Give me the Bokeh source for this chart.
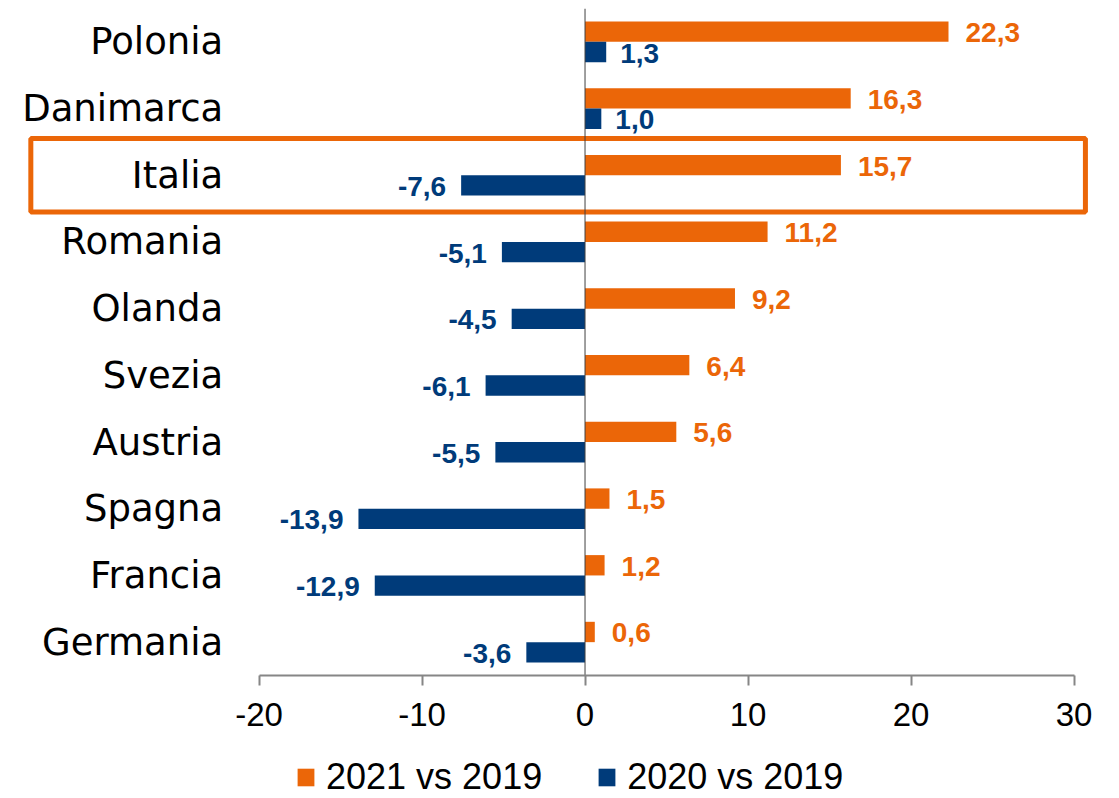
from bokeh.plotting import figure
from bokeh.models import (ColumnDataSource, Range1d, Legend, LegendItem,
                          FixedTicker, LinearAxis)
from bokeh.core.properties import value
from bokeh.embed import file_html
from bokeh.resources import INLINE

# ---- data -------------------------------------------------------------
countries = ["Polonia", "Danimarca", "Italia", "Romania", "Olanda",
             "Svezia", "Austria", "Spagna", "Francia", "Germania"]
v2021 = [22.3, 16.3, 15.7, 11.2, 9.2, 6.4, 5.6, 1.5, 1.2, 0.6]
v2020 = [1.3, 1.0, -7.6, -5.1, -4.5, -6.1, -5.5, -13.9, -12.9, -3.6]
x_ticks = [-20, -10, 0, 10, 20, 30]
series_names = ["2021 vs 2019", "2020 vs 2019"]
highlight = "Italia"

# ---- style ------------------------------------------------------------
ORANGE = "#EB6608"
BLUE = "#003B7A"
BAR_H = 0.305
CAT_LABEL_X = -22.2
HL_LEFT, HL_RIGHT = -34.0, 30.7
PX_PER_CAT = 66.7
FRAME_H = 790

n = len(countries)
ypos = [n - 0.5 - i for i in range(n)]


def fmt(v):
    return f"{v:.1f}".replace(".", ",")


src = ColumnDataSource(dict(
    country=countries,
    y=ypos,
    y_top=[y + BAR_H / 2 for y in ypos],
    y_bot=[y - BAR_H / 2 for y in ypos],
    v2021=v2021,
    v2020=v2020,
    l2021=[fmt(v) for v in v2021],
    l2020=[fmt(v) for v in v2020],
    a2020=["left" if v >= 0 else "right" for v in v2020],
    o2020=[14 if v >= 0 else -15 for v in v2020],
))

p = figure(width=1119, height=798, output_backend="svg",
           toolbar_location=None,
           x_range=Range1d(-35.37, 32.30),
           y_range=Range1d(n - FRAME_H / PX_PER_CAT, n),
           x_axis_location=None, y_axis_location=None,
           min_border_left=8, min_border_right=8, min_border_top=8,
           min_border_bottom=0)
p.outline_line_color = None
p.xgrid.visible = False
p.ygrid.visible = False
p.background_fill_color = "white"

# highlight box
hi = countries.index(highlight)
p.rect(x=[(HL_LEFT + HL_RIGHT) / 2], y=[ypos[hi]], width=HL_RIGHT - HL_LEFT,
       height=1.1, fill_color=None, line_color=ORANGE, line_width=5)

r1 = p.hbar(y="y_top", left=0, right="v2021", height=BAR_H, color=ORANGE,
            line_width=0, source=src)
r2 = p.hbar(y="y_bot", left=0, right="v2020", height=BAR_H, color=BLUE,
            line_width=0, source=src)

# zero line across the category band
p.segment(x0=[0], y0=[0], x1=[0], y1=[n], line_color="#404040", line_width=1)

# value labels
p.text(x="v2021", y="y_top", text="l2021",
       x_offset=17, y_offset=1, text_align="left", text_baseline="middle",
       text_font=value("Liberation Sans"), text_font_style="bold",
       text_font_size="28px", text_color=ORANGE, source=src)
p.text(x="v2020", y="y_bot", text="l2020",
       x_offset="o2020", y_offset=1, text_align="a2020", text_baseline="middle",
       text_font=value("Liberation Sans"), text_font_style="bold",
       text_font_size="28px", text_color=BLUE, source=src)

# category labels
p.text(x=CAT_LABEL_X, y="y", text="country", text_align="right",
       text_baseline="middle", text_font=value("DejaVu Sans"),
       text_font_size="37px", text_color="#000000", source=src)

# x axis at y = 0 (bottom of the category band)
ax = LinearAxis(fixed_location=0)
ax.ticker = FixedTicker(ticks=x_ticks)
ax.bounds = (x_ticks[0], x_ticks[-1])
ax.major_label_overrides = {t: str(t) for t in x_ticks}
ax.axis_line_color = "#868686"
ax.axis_line_width = 2
ax.major_tick_line_color = "#868686"
ax.major_tick_line_width = 2
ax.major_tick_out = 10
ax.major_tick_in = 0
ax.minor_tick_out = 0
ax.minor_tick_in = 0
ax.major_label_text_font = "Liberation Sans"
ax.major_label_text_font_size = "33px"
ax.major_label_text_color = "#000000"
ax.major_label_standoff = 17
p.add_layout(ax, "below")

legend = Legend(items=[LegendItem(label=series_names[0], renderers=[r1]),
                       LegendItem(label=series_names[1], renderers=[r2])],
                orientation="horizontal", location=(287, 0),
                glyph_width=21, glyph_height=22, label_height=20,
                label_standoff=10, spacing=54, padding=0, margin=0,
                label_text_font="Liberation Sans", label_text_font_size="36px",
                label_text_color="#000000", border_line_color=None,
                background_fill_alpha=0)
p.add_layout(legend)

open("out.html", "w").write(file_html(p, INLINE))
